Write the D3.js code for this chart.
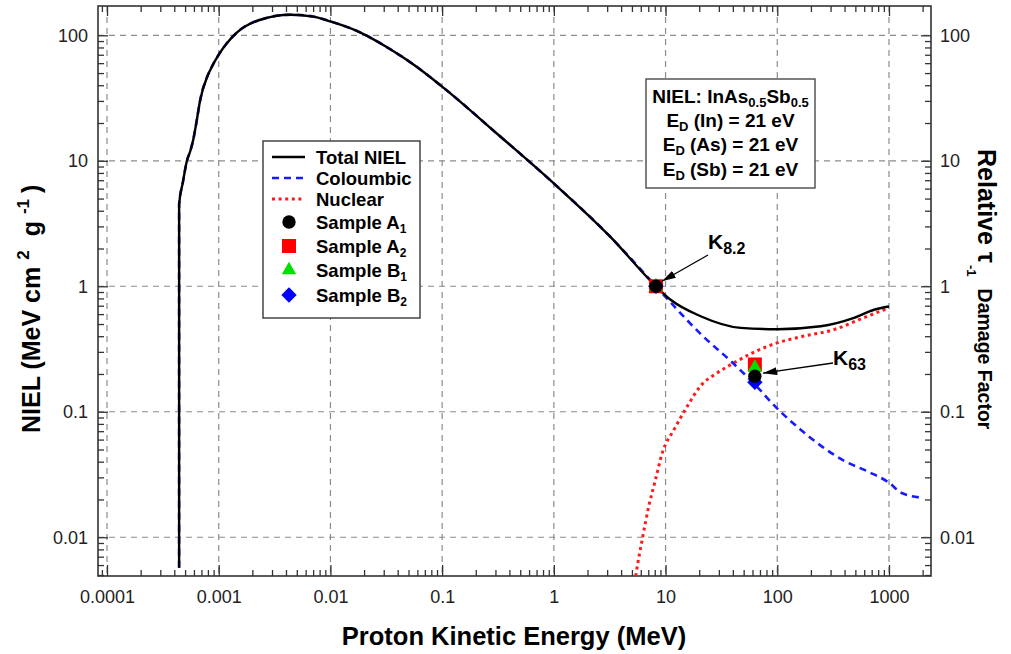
<!DOCTYPE html>
<html><head><meta charset="utf-8">
<script src="https://cdn.jsdelivr.net/npm/d3@7"></script>
<style>body{margin:0;background:#fff} svg{font-family:"Liberation Sans",Arial,sans-serif}</style>
</head><body><svg id="c" width="1011" height="654"></svg>
<script>
// ---------- data ----------
const totalE = [0.000442,0.0004421,0.000477,0.000518,0.000562,0.000594,0.000636,0.00068,0.00079,0.00084,0.001,0.00145,0.00235,0.0044,0.007,0.01,0.0178,0.0316,0.0562,0.1,0.316,1,3.16,8.2,11.1,20.6,47,100,245,486,735,1000];
const totalV = [0.0057,4.5,6.7,9.9,12.3,15,21,30,47,53,70,105,133,146,141,129,107,81,58,39,16.2,6.6,2.51,1.0,0.78,0.577,0.466,0.455,0.48,0.56,0.65,0.69];
const coulombE = [0.000442,0.0004421,0.000477,0.000518,0.000562,0.000594,0.000636,0.00068,0.00079,0.00084,0.001,0.00145,0.00235,0.0044,0.007,0.01,0.0178,0.0316,0.0562,0.1,0.316,1,3.16,8.2,11.8,21,39,63,100,162,250,400,641,1000,1300,1995];
const coulombV = [0.0057,4.5,6.7,9.9,12.3,15,21,30,47,53,70,105,133,146,141,129,107,81,58,39,16.2,6.6,2.51,1.0,0.70,0.41,0.25,0.165,0.106,0.072,0.053,0.0405,0.0335,0.0272,0.0225,0.0206];
const nuclearE = [5.4,5.57,6.18,7.08,8.13,9.34,11.9,15.6,20.5,29,40.9,57.8,100,162,322,641,1000];
const nuclearV = [0.0049,0.0058,0.0096,0.0177,0.0288,0.047,0.072,0.11,0.16,0.204,0.245,0.29,0.354,0.395,0.452,0.577,0.673];
const sampleE = [8.2, 63];
const sampleA1 = [1.0, 0.192];
const sampleA2 = [1.0, 0.238];
const sampleB1 = [1.0, 0.225];
const sampleB2 = [1.0, 0.172];
const xMajor = [1e-4,1e-3,1e-2,1e-1,1,10,100,1000];
const xTickLabels = ["0.0001","0.001","0.01","0.1","1","10","100","1000"];
const yMajor = [0.01,0.1,1,10,100];
const yTickLabels = ["0.01","0.1","1","10","100"];
const legendLabels = ["Total NIEL","Coloumbic","Nuclear",["Sample A","1"],["Sample A","2"],["Sample B","1"],["Sample B","2"]];
const boxLines = [[["NIEL: InAs",0],["0.5",1],["Sb",0],["0.5",1]],[["E",0],["D",1],[" (In) = 21 eV",0]],[["E",0],["D",1],[" (As) = 21 eV",0]],[["E",0],["D",1],[" (Sb) = 21 eV",0]]];

// ---------- layout ----------
const svg = d3.select("#c");
const L=98, T=6, R=931, B=576;
const x = d3.scaleLog().domain([8.305e-5, 2377]).range([L,R]);
const y = d3.scaleLog().domain([0.00491, 171.2]).range([B,T]);

svg.append("rect").attr("width",1011).attr("height",654).attr("fill","#fff");
svg.append("defs").append("clipPath").attr("id","clip").append("rect")
  .attr("x",L).attr("y",T).attr("width",R-L).attr("height",B-T);
const mk = svg.select("defs").append("marker").attr("id","arr")
  .attr("viewBox","0 0 14 8").attr("refX",14).attr("refY",4)
  .attr("markerWidth",14).attr("markerHeight",8).attr("markerUnits","userSpaceOnUse").attr("orient","auto");
mk.append("path").attr("d","M0,0L14,4L0,8Z").attr("fill","#000");

// grid
const grid = svg.append("g").attr("stroke","#8c8c8c").attr("stroke-width",1.2).attr("stroke-dasharray","6,5");
grid.selectAll(".gx").data(xMajor).join("line")
  .attr("x1",d=>x(d)).attr("x2",d=>x(d)).attr("y1",T).attr("y2",B);
grid.selectAll(".gy").data(yMajor).join("line")
  .attr("y1",d=>y(d)).attr("y2",d=>y(d)).attr("x1",L).attr("x2",R);

// axes
const xMinor = x.ticks().filter(v=>!xMajor.some(m=>Math.abs(m-v)/m<1e-6));
const yMinor = y.ticks().filter(v=>!yMajor.some(m=>Math.abs(m-v)/m<1e-6));
function styleAx(g){ g.select(".domain").remove(); g.selectAll("line").attr("stroke","#333").attr("stroke-width",1.3);
  g.selectAll("text").attr("font-size",18).attr("fill","#222").attr("font-family","'Liberation Sans',Arial,sans-serif"); }
svg.append("g").attr("transform",`translate(0,${B})`).call(d3.axisBottom(x).tickValues(xMajor).tickSizeInner(-11).tickSizeOuter(0).tickPadding(14).tickFormat((d,i)=>xTickLabels[i])).call(styleAx);
svg.append("g").attr("transform",`translate(0,${B})`).call(d3.axisBottom(x).tickValues(xMinor).tickSizeInner(-6).tickSizeOuter(0).tickFormat("")).call(styleAx);
svg.append("g").attr("transform",`translate(0,${T})`).call(d3.axisTop(x).tickValues(xMajor).tickSizeInner(-10).tickSizeOuter(0).tickFormat("")).call(styleAx);
svg.append("g").attr("transform",`translate(0,${T})`).call(d3.axisTop(x).tickValues(xMinor).tickSizeInner(-6).tickSizeOuter(0).tickFormat("")).call(styleAx);
svg.append("g").attr("transform",`translate(${L},0)`).call(d3.axisLeft(y).tickValues(yMajor).tickSizeInner(-10).tickSizeOuter(0).tickPadding(10).tickFormat((d,i)=>yTickLabels[i])).call(styleAx);
svg.append("g").attr("transform",`translate(${L},0)`).call(d3.axisLeft(y).tickValues(yMinor).tickSizeInner(-6).tickSizeOuter(0).tickFormat("")).call(styleAx);
svg.append("g").attr("transform",`translate(${R},0)`).call(d3.axisRight(y).tickValues(yMajor).tickSizeInner(-10).tickSizeOuter(0).tickPadding(9).tickFormat((d,i)=>yTickLabels[i])).call(styleAx);
svg.append("g").attr("transform",`translate(${R},0)`).call(d3.axisRight(y).tickValues(yMinor).tickSizeInner(-6).tickSizeOuter(0).tickFormat("")).call(styleAx);
svg.append("rect").attr("x",L).attr("y",T).attr("width",R-L).attr("height",B-T)
  .attr("fill","none").attr("stroke","#333").attr("stroke-width",1.6);

// curves
const line = d3.line().x(d=>x(d[0])).y(d=>y(d[1])).curve(d3.curveMonotoneX);
const cg = svg.append("g").attr("clip-path","url(#clip)").attr("fill","none");
cg.append("path").attr("d",line(d3.zip(nuclearE,nuclearV))).attr("stroke","#ff1a1a").attr("stroke-width",3).attr("stroke-dasharray","3,3.6");
cg.append("path").attr("d",line(d3.zip(coulombE,coulombV))).attr("stroke","#1a1aff").attr("stroke-width",2.6).attr("stroke-dasharray","7,5");
cg.append("path").attr("d",line(d3.zip(totalE,totalV))).attr("stroke","#000").attr("stroke-width",2.4);

// markers
const sym = (type,size)=>d3.symbol().type(type).size(size)();
const series = [
  {v:sampleA2, d:sym(d3.symbolSquare,196), c:"#ff0000", rot:0},
  {v:sampleB2, d:sym(d3.symbolSquare,118), c:"#0000ff", rot:45},
  {v:sampleB1, d:sym(d3.symbolTriangle,90), c:"#00e000", rot:0},
  {v:sampleA1, d:sym(d3.symbolCircle,140), c:"#000000", rot:0}
];
series.forEach(s=>{
  svg.append("g").selectAll("path").data(d3.zip(sampleE,s.v)).join("path")
    .attr("d",s.d).attr("fill",s.c)
    .attr("transform",d=>`translate(${x(d[0])},${y(d[1])}) rotate(${s.rot})`);
});

// arrows + K labels
function arrow(px,py,tx,ty,dxTip,dyTip){
  svg.append("line").attr("x1",tx).attr("y1",ty).attr("x2",px+dxTip).attr("y2",py+dyTip)
    .attr("stroke","#000").attr("stroke-width",1.3).attr("marker-end","url(#arr)");
}
arrow(x(8.2),y(1.0),708,255,6,-5);
arrow(x(63),y(0.192),833,363,8,-3);
const k1 = svg.append("text").attr("x",708).attr("y",249).attr("font-size",21).attr("font-weight","bold");
k1.append("tspan").text("K"); k1.append("tspan").attr("font-size",16).attr("dy",5).text("8.2");
const k2 = svg.append("text").attr("x",833).attr("y",365).attr("font-size",21).attr("font-weight","bold");
k2.append("tspan").text("K"); k2.append("tspan").attr("font-size",16).attr("dy",5).text("63");

// legend
const lg = svg.append("g");
lg.append("rect").attr("x",263).attr("y",141).attr("width",157).attr("height",177)
  .attr("fill","#fff").attr("stroke","#444").attr("stroke-width",1.5);
const ly = [157,178,199,222,246,270,295];
const lineStyles = [{c:"#000",da:null,w:2.4},{c:"#1a1aff",da:"7,5",w:2.6},{c:"#ff1a1a",da:"3,3.6",w:3}];
lineStyles.forEach((s,i)=>{
  lg.append("line").attr("x1",272).attr("x2",305).attr("y1",ly[i]).attr("y2",ly[i])
    .attr("stroke",s.c).attr("stroke-width",s.w).attr("stroke-dasharray",s.da);
});
const legSyms = [series[3],series[0],series[2],series[1]];
legSyms.forEach((s,i)=>{
  lg.append("path").attr("d",s.d).attr("fill",s.c).attr("transform",`translate(289,${ly[i+3]}) rotate(${s.rot})`);
});
legendLabels.forEach((lab,i)=>{
  const t = lg.append("text").attr("x",316).attr("y",ly[i]+6.5).attr("font-size",18.5).attr("font-weight","bold");
  if (typeof lab === "string") t.text(lab);
  else { t.append("tspan").text(lab[0]); t.append("tspan").attr("font-size",12).attr("dy",4).text(lab[1]); }
});

// annotation box
const ab = svg.append("g");
ab.append("rect").attr("x",646).attr("y",79).attr("width",169).attr("height",109)
  .attr("fill","#fff").attr("stroke","#555").attr("stroke-width",1.5);
const by = [103,127,151,176];
boxLines.forEach((ln,i)=>{
  const t = ab.append("text").attr("x",730.5).attr("y",by[i]).attr("text-anchor","middle").attr("font-size",19).attr("font-weight","bold");
  let sub=0;
  ln.forEach(([s,isSub])=>{
    const ts = t.append("tspan").text(s);
    if (isSub && !sub){ ts.attr("font-size",13).attr("dy",4); sub=1; }
    else if (isSub && sub){ ts.attr("font-size",13); }
    else if (!isSub && sub){ ts.attr("dy",-4); sub=0; }
  });
});

// axis titles
svg.append("text").attr("x",514).attr("y",645).attr("text-anchor","middle")
  .attr("font-size",25.5).attr("font-weight","bold").text("Proton Kinetic Energy (MeV)");
const yt = svg.append("text").attr("transform","translate(40,433) rotate(-90)")
  .attr("font-size",25).attr("font-weight","bold");
yt.append("tspan").text("NIEL (MeV cm");
yt.append("tspan").attr("font-size",17).attr("dy",-11).attr("dx",7).text("2");
yt.append("tspan").attr("dy",11).attr("dx",7).text(" g");
yt.append("tspan").attr("font-size",17).attr("dy",-11).attr("dx",7).text("-1");
yt.append("tspan").attr("dy",11).attr("dx",6).text(")");
const rt = svg.append("text").attr("transform","translate(978,149) rotate(90)")
  .attr("font-size",25).attr("font-weight","bold");
rt.append("tspan").text("Relative τ");
rt.append("tspan").attr("font-size",13).attr("dy",11).attr("dx",2).text("-1");
rt.append("tspan").attr("font-size",19.5).attr("dy",-11).attr("dx",12).text("Damage Factor");
</script></body></html>
